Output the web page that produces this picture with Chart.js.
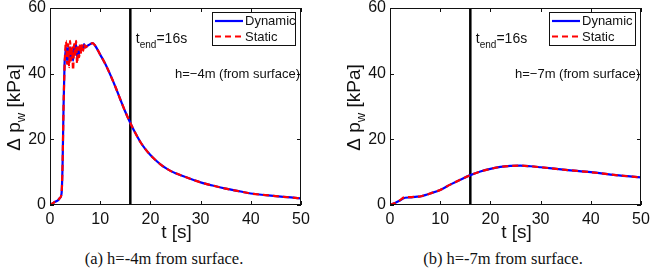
<!DOCTYPE html>
<html>
<head>
<meta charset="utf-8">
<script src="https://cdn.jsdelivr.net/npm/chart.js@4.4.0/dist/chart.umd.min.js"></script>
<style>
  body { margin: 0; background: #fff; width: 651px; height: 269px; position: relative; overflow: hidden; }
  canvas { position: absolute; top: 0; }
  .cap { position: absolute; top: 249px; width: 260px; text-align: center; font-family: "Liberation Serif", "DejaVu Serif", serif; font-size: 16.5px; line-height: 20px; color: #111; }
</style>
</head>
<body>
<canvas id="chartA" width="325" height="245" style="left:0px"></canvas>
<canvas id="chartB" width="325" height="245" style="left:326px"></canvas>
<div class="cap" style="left:34px">(a) h=-4m from surface.</div>
<div class="cap" style="left:373px">(b) h=-7m from surface.</div>
<script>
// left panel, h = -4m
const timeA = [0, 0.5, 1, 1.5, 2, 2.3, 2.5, 2.7, 2.9, 3.0, 3.2, 3.4, 3.6, 3.8, 4.0, 4.2, 4.4, 4.6, 4.8, 5.0,
  5.2, 5.4, 5.6, 5.8, 6.0, 6.2, 6.4, 6.6, 6.8, 7.0, 7.5, 8, 8.5, 9, 10, 11, 12, 13, 14, 15, 16, 17, 18,
  19, 20, 21, 22, 23, 24, 25, 27, 30, 33, 35, 38, 40, 43, 45, 48, 50];
const staticA = [0, 0.5, 1, 1.3, 2.2, 3.5, 12, 30, 42, 46, 50, 43, 49, 42, 50, 44, 48, 41, 49, 45,
  50, 43, 48, 45, 49, 46, 49, 47, 49, 48, 48.5, 49, 49.3, 48.5, 45.8, 43, 39.7, 36.1, 32.2, 28.4, 25, 21.9, 19.2,
  17.0, 15.2, 13.7, 12.4, 11.3, 10.4, 9.7, 8.5, 6.9, 5.7, 5, 4.1, 3.5, 3, 2.7, 2.3, 2];
const dynamicA = [0, 0.5, 1, 1.3, 2.2, 3.5, 12, 30, 43, 45, 48, 44, 48, 44, 48, 45, 47, 44, 48, 46,
  49, 45, 48, 46, 48.5, 47, 48.5, 47.5, 49, 48, 48.5, 49, 49.3, 48.5, 45.8, 43, 39.7, 36.1, 32.2, 28.4, 25, 21.9, 19.2,
  17.0, 15.2, 13.7, 12.4, 11.3, 10.4, 9.7, 8.5, 6.9, 5.7, 5, 4.1, 3.5, 3, 2.7, 2.3, 2];

// right panel, h = -7m
const timeB = [0, 1, 2, 3, 4, 5, 6, 7, 8, 10, 12, 14, 16, 18, 20, 22, 24, 26, 28, 30, 35, 40, 45, 50];
const staticB = [0, 0.6, 1.5, 2.4, 2.4, 2.5, 2.6, 3.0, 3.5, 4.6, 6.2, 7.7, 9.1, 10.2, 11.0, 11.6, 11.9, 12.0, 11.8, 11.5, 10.7, 10.0, 9.1, 8.4];
const dynamicB = [0, 0.6, 1.4, 2.2, 2.3, 2.5, 2.6, 3.0, 3.5, 4.6, 6.2, 7.7, 9.1, 10.2, 11.0, 11.6, 11.9, 12.0, 11.8, 11.5, 10.7, 10.0, 9.1, 8.4];

const tEnd = 16;
const xTicks = [0, 10, 20, 30, 40, 50];
const yTicks = [0, 20, 40, 60];

const SANS = '"Liberation Sans", Arial, Helvetica, sans-serif';

function toPoints(t, v) {
  return t.map((x, i) => ({ x: x, y: v[i] }));
}

// draws a run of text pieces (some subscripted) centred or left-aligned at (x, y)
function drawPieces(ctx, pieces, x, y, align) {
  let total = 0;
  pieces.forEach(p => {
    ctx.font = p.size + 'px ' + SANS;
    p.w = ctx.measureText(p.t).width;
    total += p.w;
  });
  let cx = align === 'center' ? x - total / 2 : (align === 'right' ? x - total : x);
  ctx.textAlign = 'left';
  ctx.textBaseline = 'alphabetic';
  pieces.forEach(p => {
    ctx.font = p.size + 'px ' + SANS;
    ctx.fillText(p.t, cx, y + p.dy);
    cx += p.w;
  });
}

const decorPlugin = {
  id: 'decor',
  afterDatasetsDraw(chart) {
    const ctx = chart.ctx;
    const a = chart.chartArea;
    const xs = chart.scales.x, ys = chart.scales.y;
    const info = chart.options.plugins.decor;
    ctx.save();

    // frame
    ctx.strokeStyle = '#111';
    ctx.lineWidth = 1;
    ctx.strokeRect(a.left + 0.5, a.top + 0.5, a.right - a.left - 1, a.bottom - a.top - 1);

    // inward ticks on all four sides
    ctx.beginPath();
    xTicks.forEach(v => {
      const px = Math.round(xs.getPixelForValue(v)) + 0.5;
      ctx.moveTo(px, a.bottom); ctx.lineTo(px, a.bottom - 4);
      ctx.moveTo(px, a.top); ctx.lineTo(px, a.top + 4);
    });
    yTicks.forEach(v => {
      const py = Math.round(ys.getPixelForValue(v)) + 0.5;
      ctx.moveTo(a.left, py); ctx.lineTo(a.left + 4, py);
      ctx.moveTo(a.right, py); ctx.lineTo(a.right - 4, py);
    });
    ctx.stroke();

    ctx.fillStyle = '#111';
    // t_end label
    drawPieces(ctx, [
      { t: 't', size: 14, dy: 0 },
      { t: 'end', size: 10, dy: 5 },
      { t: '=16s', size: 14, dy: 0 }
    ], xs.getPixelForValue(17.1), ys.getPixelForValue(49.4), 'left');

    // depth label
    ctx.font = '13px ' + SANS;
    ctx.textAlign = 'right';
    ctx.textBaseline = 'alphabetic';
    ctx.fillText(info.depth, a.right - 1, ys.getPixelForValue(38.8));

    // legend box
    const lw = info.legendW, lx = a.right - 6 - lw, ly = a.top + 4;
    ctx.fillStyle = '#fff';
    ctx.fillRect(lx, ly, lw, 33);
    ctx.strokeStyle = '#111';
    ctx.strokeRect(lx + 0.5, ly + 0.5, lw, 33);
    const rows = [chart.data.datasets[1], chart.data.datasets[0]];
    rows.forEach((ds, i) => {
      const yy = ly + 9 + i * 15.5;
      ctx.beginPath();
      ctx.strokeStyle = ds.borderColor;
      ctx.lineWidth = 2.2;
      ctx.setLineDash(ds.borderDash || []);
      ctx.moveTo(lx + 3, yy); ctx.lineTo(lx + 31, yy);
      ctx.stroke();
      ctx.setLineDash([]);
      ctx.fillStyle = '#111';
      ctx.font = '13px ' + SANS;
      ctx.textAlign = 'left';
      ctx.textBaseline = 'middle';
      ctx.fillText(ds.label, lx + 33, yy + 0.5);
    });

    // x title
    ctx.fillStyle = '#111';
    ctx.font = '19px ' + SANS;
    ctx.textAlign = 'center';
    ctx.textBaseline = 'alphabetic';
    ctx.fillText('t [s]', (a.left + a.right) / 2 + 1, 238);

    // y title, rotated, with subscript w
    ctx.translate(a.left - 30, (a.top + a.bottom) / 2 + 1);
    ctx.rotate(-Math.PI / 2);
    drawPieces(ctx, [
      { t: 'Δ p', size: 19, dy: 0 },
      { t: 'w', size: 13, dy: 5 },
      { t: ' [kPa]', size: 19, dy: 0 }
    ], 0, 0, 'center');

    ctx.restore();
  }
};

function makeChart(id, t, dyn, sta, depth, yAxisW, padRight, legendW) {
  const ctx = document.getElementById(id).getContext('2d');
  return new Chart(ctx, {
    type: 'line',
    data: {
      datasets: [
        {
          label: 'Static',
          data: toPoints(t, sta),
          borderColor: '#ff0000',
          borderWidth: 2.2,
          borderDash: [6, 4],
          pointRadius: 0,
          cubicInterpolationMode: 'monotone',
          order: 0
        },
        {
          label: 'Dynamic',
          data: toPoints(t, dyn),
          borderColor: '#0000ff',
          borderWidth: 2.2,
          pointRadius: 0,
          cubicInterpolationMode: 'monotone',
          order: 1
        },
        {
          label: 'tend',
          data: [{ x: tEnd, y: 0 }, { x: tEnd, y: 60 }],
          borderColor: '#000',
          borderWidth: 2.5,
          pointRadius: 0,
          order: 2
        }
      ]
    },
    options: {
      responsive: false,
      animation: false,
      layout: { padding: { left: 0, right: padRight, top: 8, bottom: 0 } },
      scales: {
        x: {
          type: 'linear',
          min: 0, max: 50,
          afterBuildTicks: s => { s.ticks = xTicks.map(v => ({ value: v })); },
          afterFit: s => { s.height = 40; s.paddingLeft = 0; s.paddingRight = 0; },
          grid: { display: false, drawTicks: false },
          border: { display: false },
          ticks: { color: '#111', padding: 5, autoSkip: false, maxRotation: 0, font: { family: SANS, size: 16 } }
        },
        y: {
          min: 0, max: 60,
          afterBuildTicks: s => { s.ticks = yTicks.map(v => ({ value: v })); },
          afterFit: s => { s.width = yAxisW; s.paddingTop = 0; s.paddingBottom = 0; },
          grid: { display: false, drawTicks: false },
          border: { display: false },
          ticks: { color: '#111', padding: 4, font: { family: SANS, size: 16 } }
        }
      },
      plugins: {
        legend: { display: false },
        tooltip: { enabled: false },
        decor: { depth: depth, legendW: legendW }
      }
    },
    plugins: [decorPlugin]
  });
}

makeChart('chartA', timeA, dynamicA, staticA, 'h=\u22124m (from surface)', 50, 24, 83);
makeChart('chartB', timeB, dynamicB, staticB, 'h=\u22127m (from surface)', 64, 10, 86);
</script>
</body>
</html>
